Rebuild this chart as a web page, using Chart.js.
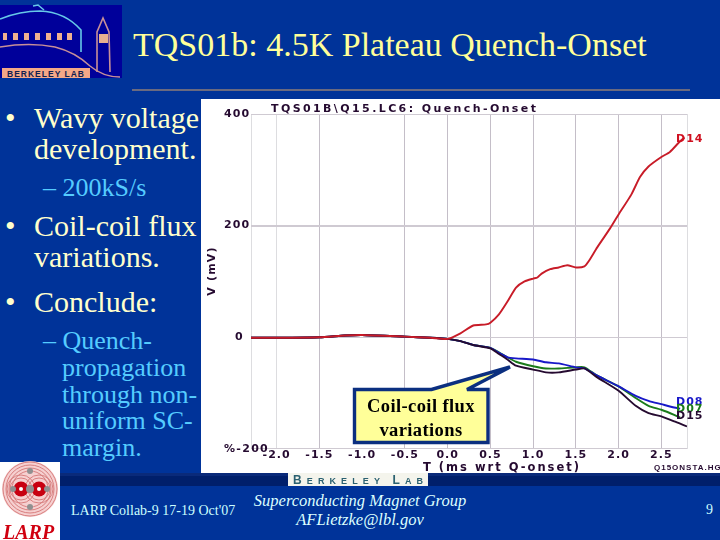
<!DOCTYPE html>
<html><head><meta charset="utf-8">
<script src="https://cdn.jsdelivr.net/npm/chart.js@4"></script>
<style>
html,body{margin:0;padding:0;background:#003399;width:720px;height:540px;overflow:hidden}
#slide{position:relative;width:720px;height:540px;overflow:hidden;background:#003399;font-family:"Liberation Serif",serif}
.t{position:absolute;white-space:nowrap;line-height:1}
.w{color:#ffffcc;font-size:30px}
.c{color:#55ccff;font-size:26px}
#wrap{position:absolute;left:201px;top:99px;width:519px;height:374px;background:#fff}
svg{position:absolute;left:0;top:0}
</style></head><body><div id="slide">
<svg width="720" height="540" style="z-index:0">
 <rect x="60" y="473" width="660" height="13" fill="#001f6b"/>
 <rect x="60" y="473" width="660" height="3" fill="#0a2a7a"/>
 <rect x="0" y="5" width="122" height="73" fill="#00009a"/>
 <path d="M0 19 Q20 11 40 11 Q65 12 81 30 L81 52" fill="none" stroke="#66c8e8" stroke-width="1.6"/>
 <path d="M33 6 L38 5 L44 10" fill="none" stroke="#66c8e8" stroke-width="1.6"/>
 <g fill="#f0b090"><rect x="3" y="33" width="4" height="7"/><rect x="13" y="33" width="5" height="7"/><rect x="24" y="33" width="5" height="7"/><rect x="35" y="33" width="5" height="7"/><rect x="46" y="33" width="5" height="7"/><rect x="57" y="33" width="5" height="7"/><rect x="67" y="33" width="5" height="7"/></g>
 <path d="M0 47 Q30 42 55 47 Q75 52 90 66 Q103 77 120 77" fill="none" stroke="#c89098" stroke-width="1.4"/>
 <path d="M97 72 L97 32 L103 18 L109 32 L110 72" fill="none" stroke="#c89098" stroke-width="1.6"/>
 <rect x="99" y="34" width="9" height="9" fill="#e8b090"/>
 <rect x="2" y="68" width="88" height="10" fill="#f4a888"/>
 <text x="46" y="76.5" text-anchor="middle" font-family="Liberation Sans" font-weight="bold" font-size="8.5" letter-spacing="1" fill="#102050">BERKELEY LAB</text>
 <rect x="132" y="89" width="558" height="2" fill="#6a6a80"/>
</svg>
<div class="t" style="left:133px;top:28px;font-size:34px;color:#ffff99">TQS01b: 4.5K Plateau Quench-Onset</div>
<div class="t w" style="left:5px;top:103px">•</div>
<div class="t w" style="left:34px;top:103px">Wavy voltage</div>
<div class="t w" style="left:34px;top:134px">development.</div>
<div class="t c" style="left:43px;top:175px">– 200kS/s</div>
<div class="t w" style="left:5px;top:211px">•</div>
<div class="t w" style="left:34px;top:211px">Coil-coil flux</div>
<div class="t w" style="left:34px;top:242px">variations.</div>
<div class="t w" style="left:5px;top:287px">•</div>
<div class="t w" style="left:34px;top:287px">Conclude:</div>
<div class="t c" style="left:43px;top:328px">– Quench-</div>
<div class="t c" style="left:62px;top:355px">propagation</div>
<div class="t c" style="left:62px;top:382px">through non-</div>
<div class="t c" style="left:62px;top:408px">uniform SC-</div>
<div class="t c" style="left:62px;top:435px">margin.</div>
<div id="wrap"><canvas id="c" width="519" height="374"></canvas></div>
<svg width="720" height="540" style="z-index:2">
 <polygon points="354.5,389.5 431.5,389.5 510,367 467,389.5 488,389.5 488,442.5 354.5,442.5" fill="#ffff99" stroke="#0b2f80" stroke-width="3.4" stroke-linejoin="miter"/>
 <rect x="0" y="462" width="60" height="78" fill="#fff"/>
 <circle cx="30" cy="489" r="28" fill="#f6d0d0"/>
 <g fill="none" stroke="#d88080" stroke-width="1">
  <circle cx="30" cy="489" r="27"/><circle cx="30" cy="489" r="24"/><circle cx="30" cy="489" r="21"/><circle cx="30" cy="489" r="18"/>
  <circle cx="21" cy="489" r="14"/><circle cx="39" cy="489" r="14"/><circle cx="21" cy="489" r="11"/><circle cx="39" cy="489" r="11"/>
 </g>
 <circle cx="21" cy="489" r="7.5" fill="#c80010"/><circle cx="39" cy="489" r="7.5" fill="#c80010"/>
 <circle cx="21" cy="489" r="2" fill="#fff"/><circle cx="39" cy="489" r="2" fill="#fff"/>
 <circle cx="13" cy="489" r="3" fill="#909090"/><circle cx="30" cy="489" r="4" fill="#909090"/><circle cx="47" cy="489" r="3" fill="#909090"/><circle cx="30" cy="471" r="3" fill="#909090"/><circle cx="30" cy="507" r="3" fill="#909090"/>
 <rect x="288" y="473" width="140" height="13" fill="#f4f4ec"/>
 <text x="293" y="484" font-family="Liberation Sans" font-weight="bold" font-size="9" textLength="130" fill="#2a6070"><tspan font-size="12">B</tspan>ERKELEY <tspan font-size="12">L</tspan>AB</text>
</svg>
<div class="t" style="z-index:3;left:354px;width:134px;text-align:center;top:397px;font-size:18.5px;letter-spacing:.4px;font-weight:bold;color:#000">Coil-coil flux</div>
<div class="t" style="z-index:3;left:354px;width:134px;text-align:center;top:421px;font-size:18.5px;letter-spacing:.4px;font-weight:bold;color:#000">variations</div>
<div class="t" style="z-index:3;left:3px;top:522px;font-size:20px;font-weight:bold;font-style:italic;color:#d00010">LARP</div>
<div class="t" style="left:71px;top:504px;font-size:14px;color:#ccffff">LARP Collab-9 17-19 Oct'07</div>
<div class="t" style="left:240px;width:240px;text-align:center;top:493px;font-size:16.5px;font-style:italic;color:#ddffff">Superconducting Magnet Group</div>
<div class="t" style="left:240px;width:240px;text-align:center;top:512px;font-size:16.5px;font-style:italic;color:#ddffff">AFLietzke@lbl.gov</div>
<div class="t" style="left:706px;top:503px;font-size:14px;color:#ccffff">9</div>
</div>
<script>
const chartTitle = "TQS01B\\Q15.LC6: Quench-Onset";
const xTitle = "T (ms wrt Q-onset)";
const yTitle = "V (mV)";
const fileTag = "Q15ONSTA.HG";
const xTicks = [-2.3,-2,-1.5,-1,-0.5,0,0.5,1,1.5,2,2.5,2.8];
const yTicks = [-200,0,200,400];
const redT = [-2.3,-2,-1.5,-1.2,-1,-0.5,-0.2,0,0.15,0.3,0.45,0.5,0.6,0.7,0.8,0.9,1,1.05,1.1,1.2,1.3,1.4,1.5,1.6,1.65,1.75,1.9,2,2.15,2.25,2.35,2.5,2.6,2.7,2.77];
const redV = [-1,-1,0,3,4,1,-1,-3,7,21,23,26,41,64,89,100,105,107,114,122,125,129,125,127,136,161,195,220,256,287,306,323,332,348,358];
const coilT = [-2.3,-2,-1.5,-1.2,-1,-0.5,-0.2,0,0.15,0.3,0.5,0.6,0.7,0.8,1,1.15,1.3,1.5,1.6,1.75,2,2.2,2.35,2.5,2.65,2.72,2.8];
const d08V = [-1,-1,0,3,4,1,-1,-3,-7,-14,-19,-28,-36,-38,-40,-45,-47,-54,-56,-69,-88,-105,-114,-120,-126,-128,null];
const d07V = [-1,-1,0,3,4,1,-1,-3,-7,-14,-19,-27,-36,-44,-52,-56,-56,-54,-54,-69,-88,-109,-123,-130,-139,-144,null];
const d15V = [-1,-1,0,3,4,1,-1,-3,-7,-14,-20,-30,-40,-51,-58,-63,-63,-58,-56,-72,-96,-123,-136,-142,-151,-155,-160];
const pts = (ts,vs)=>ts.map((x,i)=>({x,y:vs[i]})).filter(p=>p.y!==null);
const heavy = '"DejaVu Sans",sans-serif';
const sans = '"Liberation Sans",Arial,sans-serif';
const DARK = '#250a30';
function lbl(ctx,s,x,y,size,col,sp,al,fam){ctx.font='bold '+size+'px '+(fam||heavy);ctx.fillStyle=col;ctx.letterSpacing=sp+'px';ctx.textAlign=al||'left';ctx.textBaseline='middle';ctx.fillText(s,x,y);}
const extras = {id:'extras',
 beforeDraw(c){c.ctx.letterSpacing='1px';},
 afterDraw(c){
  const ctx=c.ctx, Y=c.scales.y;
  ctx.save();
  lbl(ctx,chartTitle,70,10,11,DARK,2.4);
  lbl(ctx,'400',23,Y.getPixelForValue(400),11,DARK,1.1);
  lbl(ctx,'200',23,Y.getPixelForValue(200),11,DARK,1.1);
  lbl(ctx,'0',34,Y.getPixelForValue(0),11,DARK,1.1);
  lbl(ctx,'%-200',23,Y.getPixelForValue(-200),11,DARK,1.3);
  lbl(ctx,xTitle,222,369,11.5,DARK,2);
  lbl(ctx,fileTag,453,369,8,DARK,1,'left',sans);
  lbl(ctx,'D14',475,40,11,'#d01020',1);
  lbl(ctx,'D08',475,303,11,'#1818c8',1);
  lbl(ctx,'D07',475,310,11,'#1a7a1a',1);
  lbl(ctx,'D15',475,317,11,DARK,1);
  ctx.translate(11,172);ctx.rotate(-Math.PI/2);
  lbl(ctx,yTitle,0,0,11,DARK,1.2,'center');
  ctx.restore();
 }};
const ds=(label,ts,vs,color,w)=>({label,data:pts(ts,vs),borderColor:color,borderWidth:w,pointRadius:0,tension:0.2,fill:false});
new Chart(document.getElementById('c'),{
 type:'line',
 data:{datasets:[ds('D14',redT,redV,'#c81c28',1.9),ds('D15',coilT,d15V,'#250a30',1.9),ds('D08',coilT,d08V,'#1818c8',1.9),ds('D07',coilT,d07V,'#1a7a1a',1.9)]},
 plugins:[extras],
 options:{responsive:false,animation:false,
  layout:{padding:{left:50,top:15,right:33,bottom:11}},
  plugins:{legend:{display:false},title:{display:false},tooltip:{enabled:false}},
  scales:{
   x:{type:'linear',min:-2.3,max:2.8,
    afterBuildTicks(s){s.ticks=xTicks.map(value=>({value}));},
    ticks:{autoSkip:false,maxRotation:0,padding:0,color:DARK,font:{family:heavy,weight:'bold',size:11},
      callback:v=>(v===-2.3||v===2.8)?'':v.toFixed(1)},
    grid:{drawTicks:true,tickLength:0,lineWidth:1,color:ctx=>{const v=ctx.tick&&ctx.tick.value;return v===-1?'rgba(0,0,0,0)':(v===-2||v===2.8||v===-2.3)?'#dddde0':'#c4bec8';}},
    border:{display:false}},
   y:{type:'linear',min:-200,max:400,
    afterBuildTicks(s){s.ticks=yTicks.map(value=>({value}));},
    afterFit(s){s.width=0;},
    ticks:{display:false},
    grid:{tickLength:0,lineWidth:ctx=>ctx.tick&&ctx.tick.value===200?2:1,color:'#cfcad2'},
    border:{display:false}}
  }}
});
</script></body></html>
